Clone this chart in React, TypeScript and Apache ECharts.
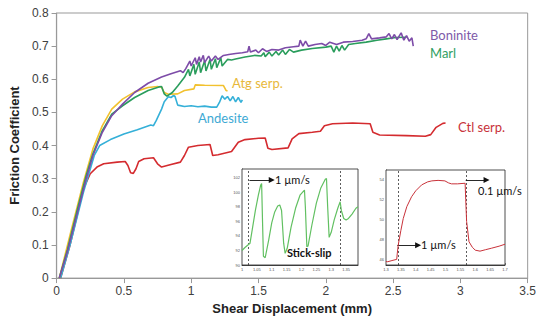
import React, { useEffect, useRef } from "react";
import * as echarts from "echarts";

// ---------- main chart data: [shear displacement (mm), friction coefficient] ----------
const boninite: [number, number][] = [
  [0.02, 0], [0.08, 0.08], [0.15, 0.19], [0.22, 0.3], [0.27, 0.37], [0.34, 0.44], [0.41, 0.49],
  [0.49, 0.525], [0.58, 0.56], [0.68, 0.588], [0.78, 0.607], [0.85, 0.617], [0.92, 0.626],
  [0.94, 0.62], [0.96, 0.632], [0.99, 0.655], [1.0, 0.64], [1.03, 0.665], [1.04, 0.645],
  [1.06, 0.668], [1.07, 0.652], [1.09, 0.672], [1.1, 0.65], [1.13, 0.67], [1.15, 0.655],
  [1.18, 0.67], [1.2, 0.66], [1.24, 0.672], [1.28, 0.675], [1.33, 0.678], [1.38, 0.68],
  [1.42, 0.683], [1.43, 0.7], [1.44, 0.682], [1.48, 0.688], [1.5, 0.68], [1.53, 0.692],
  [1.56, 0.684], [1.6, 0.69], [1.65, 0.688], [1.7, 0.695], [1.76, 0.698], [1.8, 0.7],
  [1.81, 0.718], [1.83, 0.7], [1.85, 0.715], [1.87, 0.7], [1.92, 0.705], [1.97, 0.708],
  [2.0, 0.702], [2.03, 0.712], [2.08, 0.705], [2.13, 0.712], [2.2, 0.714], [2.27, 0.718],
  [2.3, 0.722], [2.32, 0.738], [2.34, 0.722], [2.4, 0.725], [2.45, 0.728], [2.47, 0.738],
  [2.49, 0.722], [2.51, 0.735], [2.53, 0.72], [2.56, 0.74], [2.58, 0.718], [2.6, 0.732],
  [2.62, 0.715], [2.64, 0.725], [2.65, 0.7],
];

const marl: [number, number][] = [
  [0.02, 0], [0.08, 0.085], [0.15, 0.2], [0.22, 0.31], [0.27, 0.375], [0.34, 0.445],
  [0.41, 0.495], [0.49, 0.52], [0.58, 0.545], [0.68, 0.566], [0.76, 0.577], [0.78, 0.578],
  [0.8, 0.556], [0.82, 0.549], [0.86, 0.56], [0.9, 0.58], [0.95, 0.606], [0.98, 0.63],
  [0.99, 0.61], [1.02, 0.645], [1.03, 0.615], [1.06, 0.652], [1.07, 0.62], [1.1, 0.656],
  [1.11, 0.625], [1.14, 0.66], [1.15, 0.63], [1.18, 0.662], [1.19, 0.635], [1.22, 0.665],
  [1.23, 0.64], [1.27, 0.66], [1.3, 0.658], [1.33, 0.661], [1.4, 0.667], [1.47, 0.672],
  [1.52, 0.67], [1.54, 0.68], [1.55, 0.668], [1.58, 0.682], [1.6, 0.67], [1.63, 0.684],
  [1.65, 0.673], [1.68, 0.688], [1.7, 0.675], [1.73, 0.69], [1.76, 0.682], [1.82, 0.688],
  [1.9, 0.693], [2.0, 0.697], [2.04, 0.7], [2.06, 0.682], [2.08, 0.7], [2.1, 0.685],
  [2.12, 0.702], [2.14, 0.688], [2.17, 0.705], [2.22, 0.708], [2.3, 0.712], [2.38, 0.718],
  [2.45, 0.722], [2.52, 0.726], [2.6, 0.727],
];

const atgSerp: [number, number][] = [
  [0.02, 0], [0.1, 0.13], [0.2, 0.29], [0.27, 0.39], [0.34, 0.46], [0.41, 0.51], [0.49, 0.54],
  [0.58, 0.562], [0.68, 0.575], [0.75, 0.578], [0.78, 0.576], [0.8, 0.56], [0.83, 0.555],
  [0.9, 0.556], [0.95, 0.566], [1.02, 0.571], [1.03, 0.583], [1.1, 0.582], [1.24, 0.581],
  [1.26, 0.566], [1.27, 0.565],
];

const andesite: [number, number][] = [
  [0.03, 0], [0.1, 0.1], [0.2, 0.26], [0.28, 0.37], [0.32, 0.4], [0.4, 0.418], [0.5, 0.435],
  [0.6, 0.448], [0.7, 0.462], [0.72, 0.46], [0.74, 0.475], [0.78, 0.51], [0.8, 0.532],
  [0.83, 0.547], [0.85, 0.545], [0.87, 0.551], [0.88, 0.548], [0.9, 0.522], [0.95, 0.518],
  [1.0, 0.52], [1.05, 0.517], [1.1, 0.519], [1.15, 0.516], [1.19, 0.516], [1.21, 0.53],
  [1.23, 0.55], [1.25, 0.54], [1.27, 0.548], [1.29, 0.535], [1.31, 0.548], [1.33, 0.532],
  [1.35, 0.545], [1.37, 0.53], [1.38, 0.538],
];

const ctlSerp: [number, number][] = [
  [0.03, 0], [0.1, 0.1], [0.2, 0.27], [0.25, 0.315], [0.3, 0.335], [0.35, 0.345], [0.45, 0.35],
  [0.51, 0.352], [0.53, 0.34], [0.55, 0.318], [0.57, 0.316], [0.59, 0.33], [0.61, 0.352],
  [0.65, 0.36], [0.72, 0.363], [0.75, 0.345], [0.78, 0.335], [0.85, 0.343], [0.92, 0.35],
  [0.95, 0.37], [0.98, 0.395], [1.05, 0.4], [1.14, 0.403], [1.16, 0.37], [1.2, 0.372],
  [1.3, 0.382], [1.35, 0.41], [1.4, 0.418], [1.5, 0.422], [1.55, 0.423], [1.57, 0.392],
  [1.6, 0.388], [1.72, 0.393], [1.75, 0.42], [1.8, 0.436], [1.9, 0.44], [1.96, 0.443],
  [1.99, 0.46], [2.05, 0.466], [2.2, 0.468], [2.33, 0.466], [2.35, 0.44], [2.4, 0.432],
  [2.6, 0.43], [2.74, 0.428], [2.78, 0.433], [2.82, 0.455], [2.87, 0.467], [2.89, 0.468],
];

// ---------- inset 1: stick-slip (x: displacement, y: stress) ----------
const stickSlip: [number, number][] = [
  [1.0, 92.0], [1.01, 92.4], [1.027, 93.0], [1.035, 95], [1.045, 97.5], [1.055, 99.6],
  [1.063, 101], [1.066, 101.2], [1.069, 96], [1.072, 91.2], [1.078, 91.0], [1.09, 93.5],
  [1.1, 95.8], [1.11, 97.3], [1.12, 98.1], [1.127, 98.25], [1.133, 97.5], [1.14, 93],
  [1.145, 91.6], [1.152, 92.3], [1.165, 95.2], [1.18, 97.8], [1.195, 99.6], [1.21, 100.3],
  [1.213, 98], [1.218, 92.5], [1.222, 92.6], [1.235, 95.5], [1.25, 98.5], [1.265, 100.6],
  [1.28, 101.8], [1.284, 101.9], [1.288, 98], [1.293, 93.8], [1.3, 94.5], [1.31, 96.2],
  [1.322, 97.8], [1.33, 98.7], [1.334, 97.5], [1.342, 96.4], [1.35, 96.2], [1.358, 96.4],
  [1.37, 97], [1.383, 97.8], [1.39, 98.0],
];
const inset1XTicks = [1, 1.05, 1.1, 1.15, 1.2, 1.25, 1.3, 1.35];
const inset1YTicks = [90, 92, 94, 96, 98, 100, 102];
const inset1Steps = [1.025, 1.328];
const inset1Arrow: [number, number][] = [[1.025, 101.7], [1.1, 101.7]];

// ---------- inset 2: velocity step ----------
const velStep: [number, number][] = [
  [1.3, 45.75], [1.306, 45.73], [1.32, 45.85], [1.336, 45.97], [1.338, 46.6], [1.341, 47.4],
  [1.35, 48.9], [1.358, 50.1], [1.37, 51.3], [1.386, 52.3], [1.4, 52.9], [1.42, 53.5],
  [1.44, 53.8], [1.454, 53.9], [1.475, 53.95], [1.498, 53.9], [1.51, 53.7], [1.52, 53.6],
  [1.54, 53.6], [1.566, 53.66], [1.568, 52], [1.571, 49.8], [1.579, 47.75], [1.59, 47.2],
  [1.6, 46.9], [1.616, 46.8], [1.635, 46.95], [1.655, 47.1], [1.68, 47.3], [1.7, 47.5],
];
const inset2XTicks = [1.3, 1.35, 1.4, 1.45, 1.5, 1.55, 1.6, 1.65, 1.7];
const inset2YTicks = [46, 48, 50, 52, 54];
const inset2Steps = [1.338, 1.568];
const inset2ArrowA: [number, number][] = [[1.338, 47.4], [1.408, 47.4]];
const inset2ArrowB: [number, number][] = [[1.568, 54], [1.638, 54]];

const mainFont = "Liberation Sans, Arial, sans-serif";
const noteFont = "Lato, 'Open Sans', sans-serif";

function insetAxes(grid: number, xmin: number, xmax: number, ymin: number, ymax: number, xt: number[], yt: number[]) {
  const common = {
    gridIndex: grid,
    type: "value" as const,
    axisLine: { show: true, lineStyle: { color: "#222", width: 0.8 } },
    splitLine: { show: false },
  };
  return {
    x: {
      ...common,
      min: xmin,
      max: xmax,
      axisTick: { show: true, inside: true, length: 2, customValues: xt, lineStyle: { color: "#444", width: 0.6 } },
      axisLabel: { show: true, customValues: xt, fontSize: 4, margin: 2, color: "#555", fontFamily: mainFont },
    },
    y: {
      ...common,
      min: ymin,
      max: ymax,
      axisTick: { show: true, inside: true, length: 2, customValues: yt, lineStyle: { color: "#444", width: 0.6 } },
      axisLabel: { show: true, customValues: yt, fontSize: 4, margin: 2, color: "#555", fontFamily: mainFont },
    },
  };
}

function arrowItem(a: [number, number][]) {
  return [
    { coord: a[0], symbol: "none", lineStyle: { type: "solid", color: "#111", width: 0.9 } },
    { coord: a[1], symbol: "triangle", symbolSize: [6, 6] },
  ];
}

export default function App() {
  const ref = useRef<HTMLDivElement>(null);
  useEffect(() => {
    const chart = echarts.init(ref.current!, null, { renderer: "svg" });
    const i1 = insetAxes(1, 1, 1.39, 90, 103.2, inset1XTicks, inset1YTicks);
    const i2 = insetAxes(2, 1.3, 1.7, 45.4, 55, inset2XTicks, inset2YTicks);
    const mainLine = (name: string, data: [number, number][], color: string) => ({
      name,
      type: "line",
      xAxisIndex: 0,
      yAxisIndex: 0,
      data,
      showSymbol: false,
      symbol: "none",
      lineStyle: { color, width: 1.6 },
    });
    const text = (t: string, x: number, y: number, color: string, size: number, bold = false) => ({
      type: "text",
      left: x,
      top: y,
      z: 100,
      style: { text: t, fill: color, font: `${bold ? "bold " : ""}${size}px ${noteFont}` },
    });
    chart.setOption({
      animation: false,
      backgroundColor: "#fff",
      grid: [
        { left: 53, right: 6, top: 13, bottom: 38, show: true, borderColor: "#999", borderWidth: 1 },
        { left: 242, top: 169, width: 116, height: 96, show: true, borderColor: "#222", borderWidth: 0.8, backgroundColor: "#fff", z: 5 },
        { left: 386, top: 170, width: 119, height: 95, show: true, borderColor: "#222", borderWidth: 0.8, backgroundColor: "#fff", z: 5 },
      ],
      xAxis: [
        {
          gridIndex: 0,
          type: "value",
          min: 0,
          max: 3.5,
          interval: 0.5,
          name: "Shear Displacement (mm)",
          nameLocation: "middle",
          nameGap: 18,
          nameTextStyle: { fontWeight: "bold", fontSize: 13, color: "#222", fontFamily: mainFont },
          axisLine: { lineStyle: { color: "#999", width: 1.2 } },
          axisTick: { show: true, length: 5, lineStyle: { color: "#999" } },
          axisLabel: { color: "#404040", fontSize: 12, margin: 7, fontFamily: mainFont },
          splitLine: { show: false },
        },
        i1.x,
        i2.x,
      ],
      yAxis: [
        {
          gridIndex: 0,
          type: "value",
          min: 0,
          max: 0.8,
          interval: 0.1,
          name: "Friction Coefficient",
          nameLocation: "middle",
          nameGap: 31,
          nameTextStyle: { fontWeight: "bold", fontSize: 13, color: "#222", fontFamily: mainFont },
          axisLine: { show: true, lineStyle: { color: "#999", width: 1.2 } },
          axisTick: { show: true, length: 5, lineStyle: { color: "#999" } },
          axisLabel: { color: "#404040", fontSize: 12, margin: 8, fontFamily: mainFont },
          splitLine: { show: false },
        },
        i1.y,
        i2.y,
      ],
      series: [
        mainLine("Ctl serp.", ctlSerp, "#d42b2f"),
        mainLine("Andesite", andesite, "#35b0d8"),
        mainLine("Atg serp.", atgSerp, "#f2c12e"),
        mainLine("Marl", marl, "#2a9d5c"),
        mainLine("Boninite", boninite, "#7d4ca8"),
        {
          name: "Stick-slip",
          type: "line",
          xAxisIndex: 1,
          yAxisIndex: 1,
          data: stickSlip,
          showSymbol: false,
          symbol: "none",
          z: 10,
          lineStyle: { color: "#62c062", width: 1.2 },
          markLine: {
            silent: true,
            symbol: ["none", "none"],
            label: { show: false },
            lineStyle: { type: [2, 2], color: "#333", width: 0.8 },
            data: [...inset1Steps.map((v) => ({ xAxis: v })), arrowItem(inset1Arrow)],
          },
        },
        {
          name: "Velocity step",
          type: "line",
          xAxisIndex: 2,
          yAxisIndex: 2,
          data: velStep,
          showSymbol: false,
          symbol: "none",
          z: 10,
          lineStyle: { color: "#c8323a", width: 1 },
          markLine: {
            silent: true,
            symbol: ["none", "none"],
            label: { show: false },
            lineStyle: { type: [2, 2], color: "#333", width: 0.8 },
            data: [...inset2Steps.map((v) => ({ xAxis: v })), arrowItem(inset2ArrowA), arrowItem(inset2ArrowB)],
          },
        },
      ],
      graphic: [
        text("Boninite", 430, 28, "#7e5aa8", 13),
        text("Marl", 430, 46, "#2f9e62", 13),
        text("Atg serp.", 232, 76, "#e8b83a", 13),
        text("Andesite", 198, 111, "#3ea9d4", 13),
        text("Ctl serp.", 458, 120, "#c8323a", 13),
        text("1 µm/s", 275, 174, "#111", 11),
        text("Stick-slip", 287, 247, "#111", 11, true),
        text("1 µm/s", 421, 239, "#111", 11),
        text("0.1 µm/s", 478, 185, "#111", 11),
      ],
    });
    return () => chart.dispose();
  }, []);
  return <div ref={ref} style={{ position: "absolute", left: 0, top: 0, width: 539, height: 320 }} />;
}
